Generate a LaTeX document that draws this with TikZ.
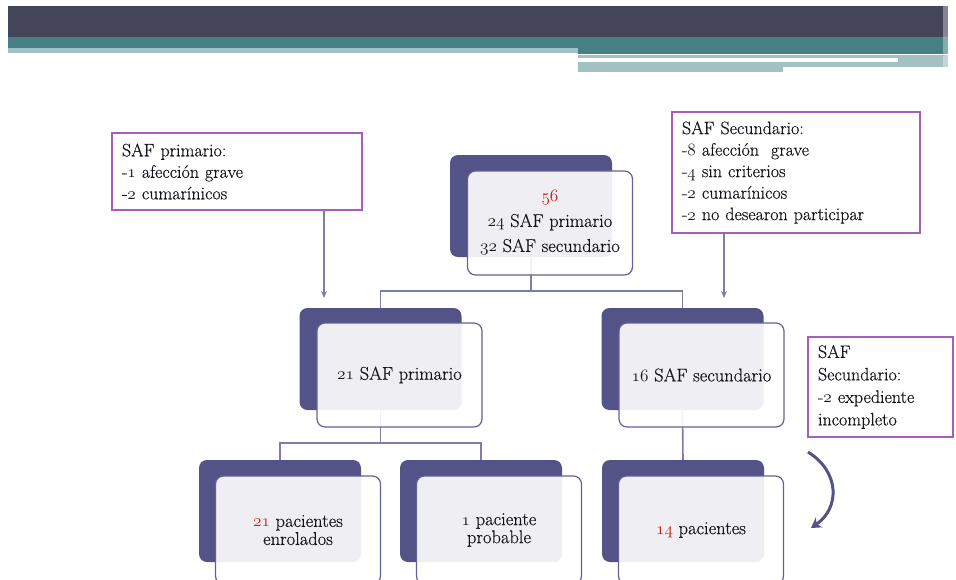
\documentclass[tikz,border=0pt]{standalone}
\usepackage{fontspec}
\setmainfont{Latin Modern Roman}[FakeBold=0.35]
\usepackage{tikz}
\usetikzlibrary{arrows.meta,positioning}

% old-style figures taken from the math italic font
\newcommand{\osnums}[1]{{\usefont{OML}{cmm}{m}{it}#1}}

\definecolor{bandDark}{RGB}{69,69,90}
\definecolor{bandTeal}{RGB}{70,127,132}
\definecolor{bandLight}{RGB}{163,192,196}
\definecolor{backPurple}{RGB}{83,83,135}
\definecolor{frontEdge}{RGB}{98,98,150}
\definecolor{linkPurple}{RGB}{125,125,170}
\definecolor{notePurple}{RGB}{165,95,185}
\definecolor{numRed}{RGB}{205,25,25}
\definecolor{inkDark}{RGB}{20,20,28}

\begin{document}
\begin{tikzpicture}[
x=1pt, y=-1pt,
back/.style={
  fill=backPurple,
  draw=none,
  rounded corners=8pt,
  minimum width=162pt,
  minimum height=102pt
  },
front/.style={
  draw=frontEdge,
  line width=1.2pt,
  fill=white,
  fill opacity=0.9,
  text opacity=1,
  rounded corners=8pt,
  minimum width=165pt,
  minimum height=104pt,
  align=center,
  text=inkDark,
  font=\fontsize{18.5}{25}\selectfont
  },
note/.style={
  draw=notePurple,
  line width=1.5pt,
  fill=white,
  inner xsep=10pt,
  align=left,
  text=inkDark,
  font=\fontsize{18}{21.5}\selectfont
  },
link/.style={
  draw=linkPurple,
  line width=1.6pt
  },
notearrow/.style={
  draw=linkPurple,
  line width=1.2pt,
  -{Stealth[length=7pt,width=6pt]}
  },
looparrow/.style={
  draw=backPurple,
  line width=3pt,
  -{Stealth[length=10pt,width=12pt]}
  }
]
\clip (0,0) rectangle (956,579);

% header bands
\fill[bandDark] (8,6) rectangle (948,37);
\fill[bandTeal] (8,37) rectangle (948,48);
\fill[bandLight] (8,48) rectangle (578,53);
\fill[bandTeal] (578,48) rectangle (948,54);
\fill[bandLight] (578,55) rectangle (948,67);
\fill[white] (578,58) rectangle (898,62);
\fill[bandLight] (578,67) rectangle (783,72);
\fill[white, opacity=0.35] (943,6) rectangle (950,72);

% dark back plates
\foreach \nm/\cx/\cy in {top/531/206, ml/380.5/359, mr/682.5/359,
                         bl/280/511, bm/481/511, br/683/511}
  \node[back] (\nm-b) at (\cx,\cy) {};

% tree links
\draw[link] (top-b.south) -- ++(0,34) coordinate (top-j);
\draw[link] (top-j) -| (ml-b.north);
\draw[link] (top-j) -| (mr-b.north);
\draw[link] (ml-b.south) -- ++(0,33) coordinate (ml-j);
\draw[link] (ml-j) -| (bl-b.north);
\draw[link] (ml-j) -| (bm-b.north);
\draw[link] (mr-b.south) -- (br-b.north);

% light front plates
\node[front] (top-f) at ([xshift=19pt,yshift=-17pt]top-b.center)
  {\textcolor{numRed}{\osnums{56}}\\
   \osnums{24} SAF primario\\
   \osnums{32} SAF secundario};
\node[front] (ml-f) at ([xshift=19pt,yshift=-16pt]ml-b.center)
  {\osnums{21} SAF primario};
\node[front] (mr-f) at ([xshift=19pt,yshift=-16pt]mr-b.center)
  {\osnums{16} SAF secundario};
\node[front, minimum height=108pt, font=\fontsize{18.5}{18}\selectfont] (bl-f)
  at ([xshift=18pt,yshift=-19pt]bl-b.center)
  {\textcolor{numRed}{\osnums{21}} pacientes\\enrolados};
\node[front, minimum height=108pt, font=\fontsize{18.5}{18}\selectfont] (bm-f)
  at ([xshift=18pt,yshift=-19pt]bm-b.center)
  {\osnums{1} paciente\\probable};
\node[front, minimum height=108pt] (br-f) at ([xshift=18pt,yshift=-19pt]br-b.center)
  {\textcolor{numRed}{\osnums{14}} pacientes};

% exclusion notes
\node[note, text width=230pt, minimum height=77pt] (n1) at (237,171.5)
  {SAF primario:\\
   -\osnums{1} afección grave\\
   -\osnums{2} cumarínicos};
\node[note, text width=228pt, minimum height=121pt] (n2) at (796,172.5)
  {SAF Secundario:\\
   -\osnums{8} afección\ \ grave\\
   -\osnums{4} sin criterios\\
   -\osnums{2} cumarínicos\\
   -\osnums{2} no desearon participar};
\node[note, text width=125pt, minimum height=100pt, font=\fontsize{18}{22.5}\selectfont] (n3) at (880.5,387)
  {SAF\\
   Secundario:\\
   -\osnums{2} expediente\\
   incompleto};

\coordinate (n1-tip) at (324,298);
\coordinate (n2-tip) at (724,298);
\draw[notearrow] (n1.south -| n1-tip) -- (n1-tip);
\draw[notearrow] (n2.south -| n2-tip) -- (n2-tip);

% curved arrow beside the last step
\coordinate (loop-a) at (808,452);
\coordinate (loop-b) at (811,528);
\draw[looparrow] (loop-a) .. controls (840,472) and (840,508) .. (loop-b);
\end{tikzpicture}
\end{document}
